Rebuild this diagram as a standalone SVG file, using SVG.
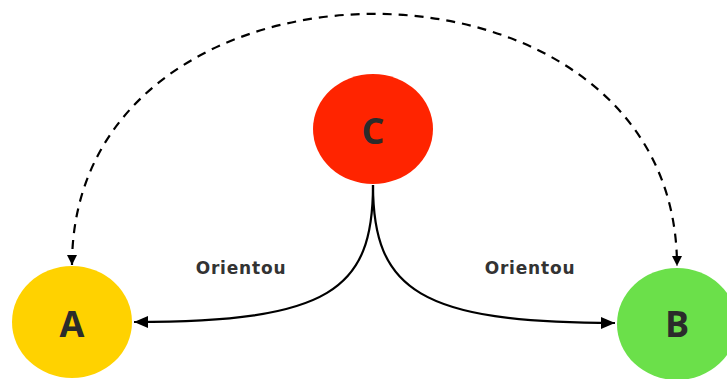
<svg xmlns="http://www.w3.org/2000/svg" width="727" height="379" viewBox="0 0 727 379">
<style>
.lbl{font-family:"DejaVu Sans","Open Sans",sans-serif;font-weight:bold;font-size:17px;letter-spacing:0.8px;fill:#333333;text-anchor:middle}
.nl{font-family:"Open Sans","DejaVu Sans",sans-serif;font-weight:bold;font-size:36px;fill:#2b2b2b;text-anchor:middle;dominant-baseline:central}
.edge{fill:none;stroke:#000;stroke-width:2.2}
</style>
<defs>
<marker id="arr" viewBox="0 0 10 10" refX="10" refY="5" markerWidth="10" markerHeight="10" markerUnits="userSpaceOnUse" orient="auto-start-reverse">
<path d="M0,0 L10,5 L0,10 Z" fill="#000"/>
</marker>
<marker id="arrL" viewBox="0 0 14 12" refX="14" refY="6" markerWidth="14" markerHeight="12" markerUnits="userSpaceOnUse" orient="auto">
<path d="M0,0 L14,6 L0,12 Z" fill="#000"/>
</marker>
</defs>
<rect width="727" height="379" fill="#fff"/>
<g id="connectors">
<path class="edge" d="M373,185 C373,290 330,322 134,322" marker-end="url(#arrL)"/>
<path class="edge" d="M373,185 C373,290 420,323 615,323" marker-end="url(#arrL)"/>
<path class="edge" stroke-dasharray="9,7" d="M72,265 C72,-70 677,-70 677,266" marker-start="url(#arr)" marker-end="url(#arr)"/>
<text class="lbl" x="241" y="274">Orientou</text>
<text class="lbl" x="530" y="274">Orientou</text>
</g>
<g id="C">
<ellipse cx="373" cy="129" rx="60" ry="55" fill="#FF2400"/>
<text class="nl" x="373" y="130">C</text>
</g>
<g id="A">
<ellipse cx="72" cy="322" rx="60" ry="56" fill="#FFD200"/>
<text class="nl" x="72" y="323">A</text>
</g>
<g id="B">
<ellipse cx="677" cy="324" rx="60" ry="56" fill="#6BE04A"/>
<text class="nl" x="677" y="323">B</text>
</g>
</svg>
